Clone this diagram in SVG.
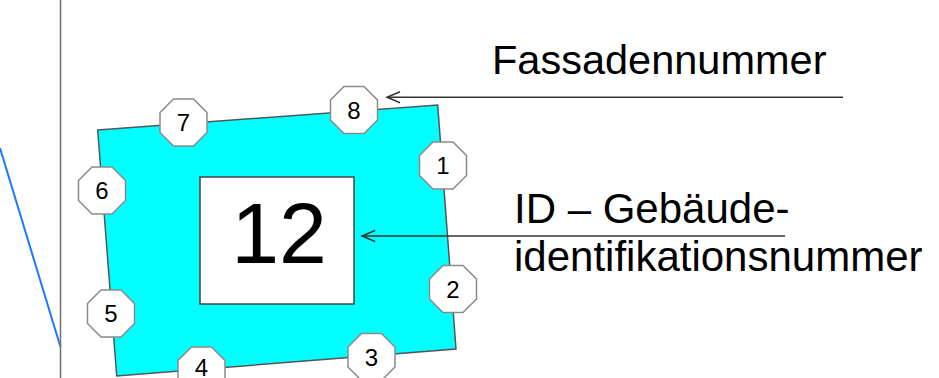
<svg xmlns="http://www.w3.org/2000/svg" width="939" height="378" viewBox="0 0 939 378">
<style>
.lbl{font-family:"Liberation Sans",Arial,sans-serif;fill:#000}
.num{font-family:"Liberation Sans",Arial,sans-serif;font-size:24px;fill:#000;text-anchor:middle}
.oct{fill:#fff;stroke:#8a8a8a;stroke-width:1.5}
.conn{stroke:#333;stroke-width:1.5;fill:none}
</style>
<defs>
<polygon id="octShape" points="-10,-23.5 10,-23.5 23.5,-10 23.5,10 10,23.5 -10,23.5 -23.5,10 -23.5,-10"/>
<marker id="openArrow" markerWidth="16" markerHeight="14" refX="14" refY="7" orient="auto" markerUnits="userSpaceOnUse">
<path d="M1,1.5 L14,7 L1,12.5" fill="none" stroke="#333" stroke-width="1.5"/>
</marker>
</defs>
<rect width="939" height="378" fill="#fff"/>
<line x1="0" y1="148" x2="60.5" y2="347" stroke="#1e78ff" stroke-width="2"/>
<line x1="60.5" y1="0" x2="60.5" y2="378" stroke="#707070" stroke-width="1.5"/>
<g id="building">
<polygon points="97.7,130 437.7,105 456,349 116.7,376" fill="#00ffff" stroke="#555" stroke-width="1.5"/>
</g>
<g id="id-box">
<rect x="200" y="177" width="154" height="127" fill="#fff" stroke="#444" stroke-width="1.5"/>
<text class="lbl" x="279" y="263" font-size="86" text-anchor="middle">12</text>
</g>
<g id="oct1"><use href="#octShape" class="oct" x="443" y="165.5"/><text class="num" x="443" y="174">1</text></g>
<g id="oct2"><use href="#octShape" class="oct" x="453" y="289"/><text class="num" x="453" y="297.5">2</text></g>
<g id="oct3"><use href="#octShape" class="oct" x="371.5" y="357"/><text class="num" x="371.5" y="365.5">3</text></g>
<g id="oct4"><use href="#octShape" class="oct" x="201.5" y="370.5"/><text class="num" x="201.5" y="376">4</text></g>
<g id="oct5"><use href="#octShape" class="oct" x="111" y="313.5"/><text class="num" x="111" y="322">5</text></g>
<g id="oct6"><use href="#octShape" class="oct" x="102" y="190.5"/><text class="num" x="102" y="199">6</text></g>
<g id="oct7"><use href="#octShape" class="oct" x="183.5" y="122.5"/><text class="num" x="183.5" y="131">7</text></g>
<g id="oct8"><use href="#octShape" class="oct" x="354" y="110"/><text class="num" x="354" y="118.5">8</text></g>
<g id="connectors">
<line class="conn" x1="843" y1="97.3" x2="387" y2="97.3" marker-end="url(#openArrow)"/>
<line class="conn" x1="785" y1="236" x2="362" y2="236" marker-end="url(#openArrow)"/>
</g>
<g id="label-fassade">
<text class="lbl" x="492" y="74" font-size="41.5">Fassadennummer</text>
</g>
<g id="label-id">
<text class="lbl" x="514" y="222.7" font-size="42">ID – Gebäude-</text>
<text class="lbl" x="514" y="270.7" font-size="42">identifikationsnummer</text>
</g>
</svg>
